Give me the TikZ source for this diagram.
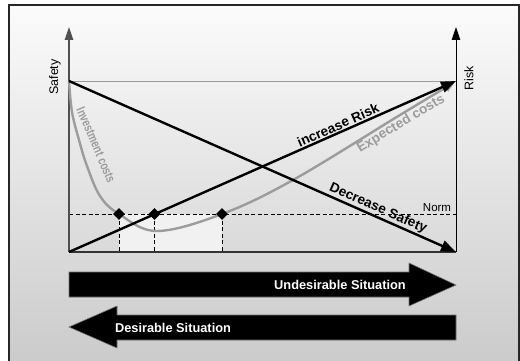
\documentclass[tikz,border=0pt]{standalone}
\usepackage{fontspec}
\setmainfont{Liberation Sans}
\usetikzlibrary{arrows.meta,shapes.geometric}
\definecolor{bgtop}{HTML}{FBFBFB}
\definecolor{bgbot}{HTML}{CACACA}
\definecolor{curvegray}{HTML}{9C9C9C}
\definecolor{axisgray}{HTML}{505050}
\definecolor{lightfill}{HTML}{F1F1F1}
\begin{document}
\begin{tikzpicture}[x=1pt,y=-1pt,
  axisline/.style={line width=1.3pt,-{Triangle[length=13pt,width=8.5pt]}},
  bigline/.style={line width=2.4pt,-{Triangle[length=15pt,width=11pt]}},
  curveline/.style={line width=2.4pt,color=curvegray,-{Triangle[length=11pt,width=9pt]}},
  normline/.style={dash pattern=on 4pt off 2.5pt,line width=0.8pt},
  dmd/.style={diamond,fill=black,inner sep=0pt,minimum size=12pt},
  axislabel/.style={font=\fontsize{12.5}{14}\selectfont,inner sep=0pt},
  linelabel/.style={font=\fontsize{13.6}{15}\selectfont\bfseries,inner sep=1pt},
  bigarrow/.style={fill=black,draw=black!55,line width=0.6pt},
  arrowtext/.style={font=\fontsize{12.8}{15}\selectfont\bfseries,text=white,inner sep=0pt}
]
\useasboundingbox (0,0) rectangle (520,361);
\fill[white] (0,0) rectangle (520,361);
\shade[top color=bgtop,bottom color=bgbot] (9,5) rectangle (519,370);
\draw[line width=1.6pt,color=black!85] (9,370) -- (9,5) -- (519,5) -- (519,370);

% key points
\coordinate (O) at (69,252);
\coordinate (S) at (69,81);
\coordinate (R) at (456,81);
\coordinate (E) at (456,252);
\coordinate (LT) at (69,27);
\coordinate (RT) at (456,27);
\coordinate (NL) at (69,214);
\coordinate (NR) at (456,214);
\coordinate (P1) at (119,214);
\coordinate (P2) at (154.5,214);
\coordinate (P3) at (222,214);

% light region under the norm
\fill[lightfill] (P1) rectangle (P3 |- O);

% top gray reference line
\draw[color=black!40,line width=0.9pt] (S) -- (R);

% norm and dashed verticals
\draw[normline] (NL) -- (NR);
\draw[normline] (P1) -- (P1 |- O);
\draw[normline] (P2) -- (P2 |- O);
\draw[normline] (P3) -- (P3 |- O);

% axes
\draw[axisline,color=axisgray] (O) -- (LT);
\draw[axisline,line width=1pt] (E) -- (RT);
\draw[line width=1.1pt,color=black!80] (O) -- (E);

% cost curve
\draw[curveline] plot[smooth,tension=0.6] coordinates {(69,81) (72,112) (79,140) (87,166) (100,196) (119,214) (157,231) (222,214) (293,180) (400,115) (455,82)};

% risk / safety lines
\draw[bigline] (S) -- (E);
\draw[bigline] (O) -- (R);

% diamonds
\node[dmd] (d1) at (P1) {};
\node[dmd] (d2) at (P2) {};
\node[dmd] (d3) at (P3) {};

% labels
\node[axislabel,rotate=90] (lsafety) at (55,77) {Safety};
\node[axislabel,rotate=90] (lrisk) at (469,78) {Risk};
\node[font=\fontsize{11.5}{13}\selectfont,inner sep=0pt] (lnorm) at (437,207.5) {Norm};
\path (O) -- (R) node[linelabel,pos=0.703,sloped,above,inner sep=2.2pt] (lincr) {increase Risk};
\path (S) -- (E) node[linelabel,pos=0.79,sloped,above,inner sep=1.8pt] (ldecr) {Decrease Safety};
\node[linelabel,text=curvegray,rotate=31] (lexp) at (401,124) {Expected costs};
\node[font=\fontsize{13}{14}\selectfont\bfseries,text=curvegray,rotate=-67,inner sep=0pt] (linv) at (96,145) {\scalebox{0.76}[1]{Investment costs}};

% bottom arrows
\draw[bigarrow] (69,272) -- (409,272) -- (409,263) -- (456,285) -- (409,306) -- (409,297) -- (69,297) -- cycle;
\node[arrowtext] (undes) at (340,285) {Undesirable Situation};
\draw[bigarrow] (456,315) -- (117,315) -- (117,306) -- (69,327) -- (117,348) -- (117,340) -- (456,340) -- cycle;
\node[arrowtext] (des) at (173,327.5) {Desirable Situation};
\end{tikzpicture}
\end{document}
